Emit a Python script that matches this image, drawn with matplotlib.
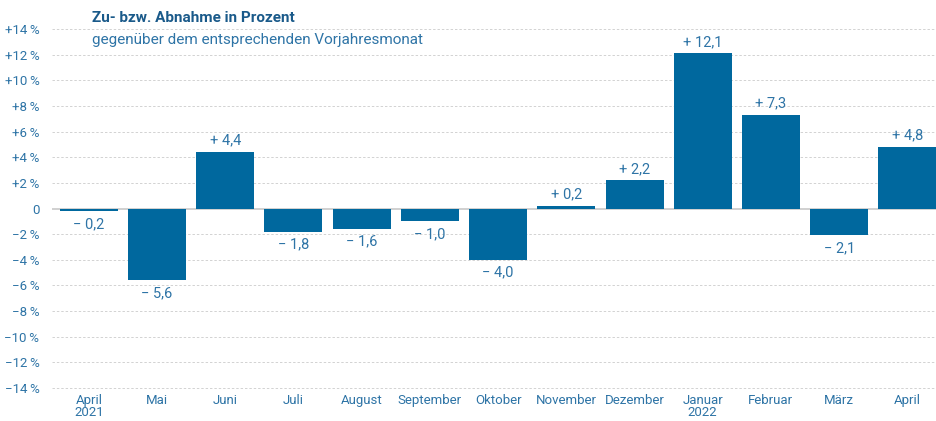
import matplotlib.pyplot as plt
import numpy as np

months = ["April\n2021", "Mai", "Juni", "Juli", "August", "September", "Oktober",
          "November", "Dezember", "Januar\n2022", "Februar", "März", "April"]
values = [-0.2, -5.6, 4.4, -1.8, -1.6, -1.0, -4.0, 0.2, 2.2, 12.1, 7.3, -2.1, 4.8]
yticks = list(range(-14, 15, 2))

BAR = "#00689e"
TXT = "#2e74a6"
TITLE = "#1a5a8a"

plt.rcParams['font.family'] = ['Roboto', 'DejaVu Sans']

fig = plt.figure(figsize=(9.36, 4.21), dpi=100)
ax = fig.add_axes([52/936, 33/421, 1 - 52/936, 359/421])

x = np.arange(len(values))
ax.bar(x, values, width=0.85, color=BAR, zorder=3)

# value labels
for xi, v in zip(x, values):
    sign = "+" if v > 0 else "\u2212"
    lab = f"{sign} {abs(v):.1f}".replace(".", ",")
    if v >= 0:
        ax.text(xi, v + 0.35, lab, ha="center", va="bottom", color=TXT, fontsize=10.5)
    else:
        ax.text(xi, v - 0.45, lab, ha="center", va="top", color=TXT, fontsize=10.5)

for t in yticks:
    if t != 0:
        ax.axhline(t, color="#d2d2d2", lw=0.7, ls=(0, (2.5, 2)), zorder=1, clip_on=False)
ax.axhline(0, color="#c8c8c8", lw=1.2, zorder=2)

ax.set_xlim(-0.54, 12.42)
ax.set_ylim(-14, 14)

def ylab(t):
    if t == 0:
        return "0"
    s = "+" if t > 0 else "\u2212"
    return f"{s}{abs(t)}\u2009%"

ax.set_yticks(yticks)
ax.set_yticklabels([ylab(t) for t in yticks], color=TXT, fontsize=9.5)
ax.set_xticks(x)
ax.set_xticklabels(months, color=TXT, fontsize=9.5, linespacing=0.95)
ax.tick_params(axis="both", length=0)
ax.tick_params(axis="y", pad=9)
ax.tick_params(axis="x", pad=4)
for s in ax.spines.values():
    s.set_visible(False)

fig.text(92/936, 1 - 18/421, "Zu- bzw. Abnahme in Prozent", color=TITLE,
         fontsize=11, fontweight="bold", va="center", ha="left",
         bbox=dict(facecolor="white", edgecolor="none", pad=3))
fig.text(92/936, 1 - 40/421, "gegenüber dem entsprechenden Vorjahresmonat", color=TXT,
         fontsize=11, va="center", ha="left",
         bbox=dict(facecolor="white", edgecolor="none", pad=1))

fig.savefig("out.png", dpi=100)
